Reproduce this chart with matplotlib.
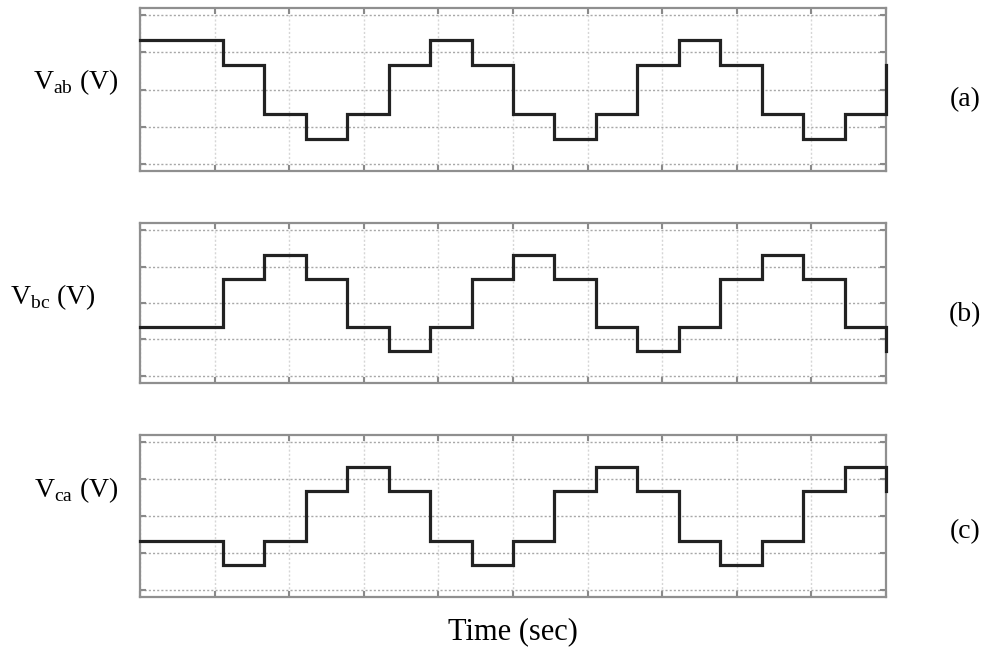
import numpy as np
import matplotlib.pyplot as plt

plt.rcParams['font.family'] = ['Liberation Serif', 'DejaVu Serif']
plt.rcParams['mathtext.fontset'] = 'custom'
plt.rcParams['mathtext.rm'] = 'Liberation Serif'

# time axis: 18 equal steps over 10 units, last point is the right edge
t_steps = np.arange(18) * 10 / 18
t = np.append(t_steps, 10)

# step levels of each line voltage (one value per step, plus the value at the edge)
v_ab = [1.33, 1.33, 0.67, -0.67, -1.33, -0.67, 0.67, 1.33, 0.67, -0.67,
        -1.33, -0.67, 0.67, 1.33, 0.67, -0.67, -1.33, -0.67, 0.67]
v_bc = [-0.67, -0.67, 0.67, 1.33, 0.67, -0.67, -1.33, -0.67, 0.67, 1.33,
        0.67, -0.67, -1.33, -0.67, 0.67, 1.33, 0.67, -0.67, -1.33]
v_ca = [-0.67, -0.67, -1.33, -0.67, 0.67, 1.33, 0.67, -0.67, -1.33, -0.67,
        0.67, 1.33, 0.67, -0.67, -1.33, -0.67, 0.67, 1.33, 0.67]

series = [v_ab, v_bc, v_ca]
ylabels = [r'V$_{\mathrm{ab}}$ (V)', r'V$_{\mathrm{bc}}$ (V)', r'V$_{\mathrm{ca}}$ (V)']
tags = ['(a)', '(b)', '(c)']

W, H = 987, 651
fig = plt.figure(figsize=(W / 100, H / 100), dpi=100)

# panel boxes in pixels: (top, bottom)
boxes = [(8, 171), (223, 383), (435, 597)]
label_pos = [(76, 82), (53, 297), (76, 490)]
tag_y = [100, 315, 532]
left, right = 140, 886

for v, (top, bot), lab, (lx, ly), tag, ty in zip(series, boxes, ylabels, label_pos, tags, tag_y):
    ax = fig.add_axes([left / W, 1 - bot / H, (right - left) / W, (bot - top) / H])
    ax.step(t, v, where='post', color='#222222', lw=2.3, solid_joinstyle='miter',
            clip_on=False, zorder=3)
    ax.set_xlim(0, 10)
    ax.set_ylim(-2.2, 2.2)
    ax.set_xticks(np.arange(0, 11, 1))
    ax.set_yticks([-2, -1, 0, 1, 2])
    ax.set_xticklabels([])
    ax.set_yticklabels([])
    ax.tick_params(direction='in', length=4, width=1.5, color='#8a8a8a',
                   top=True, right=True)
    ax.xaxis.grid(True, ls=(0, (1.5, 1.5)), color='#d6d6d6', lw=1.0)
    ax.yaxis.grid(True, ls=(0, (1.5, 1.5)), color='#a8a8a8', lw=1.0)
    for s in ax.spines.values():
        s.set_color('#8f8f8f')
        s.set_linewidth(1.6)
    fig.text(lx / W, 1 - ly / H, lab, fontsize=20, ha='center', va='center')
    fig.text(965 / W, 1 - ty / H, tag, fontsize=20, ha='center', va='center')

fig.text(513 / W, 1 - 632 / H, 'Time (sec)', fontsize=22, ha='center', va='center')

fig.savefig('out.png', dpi=100)
